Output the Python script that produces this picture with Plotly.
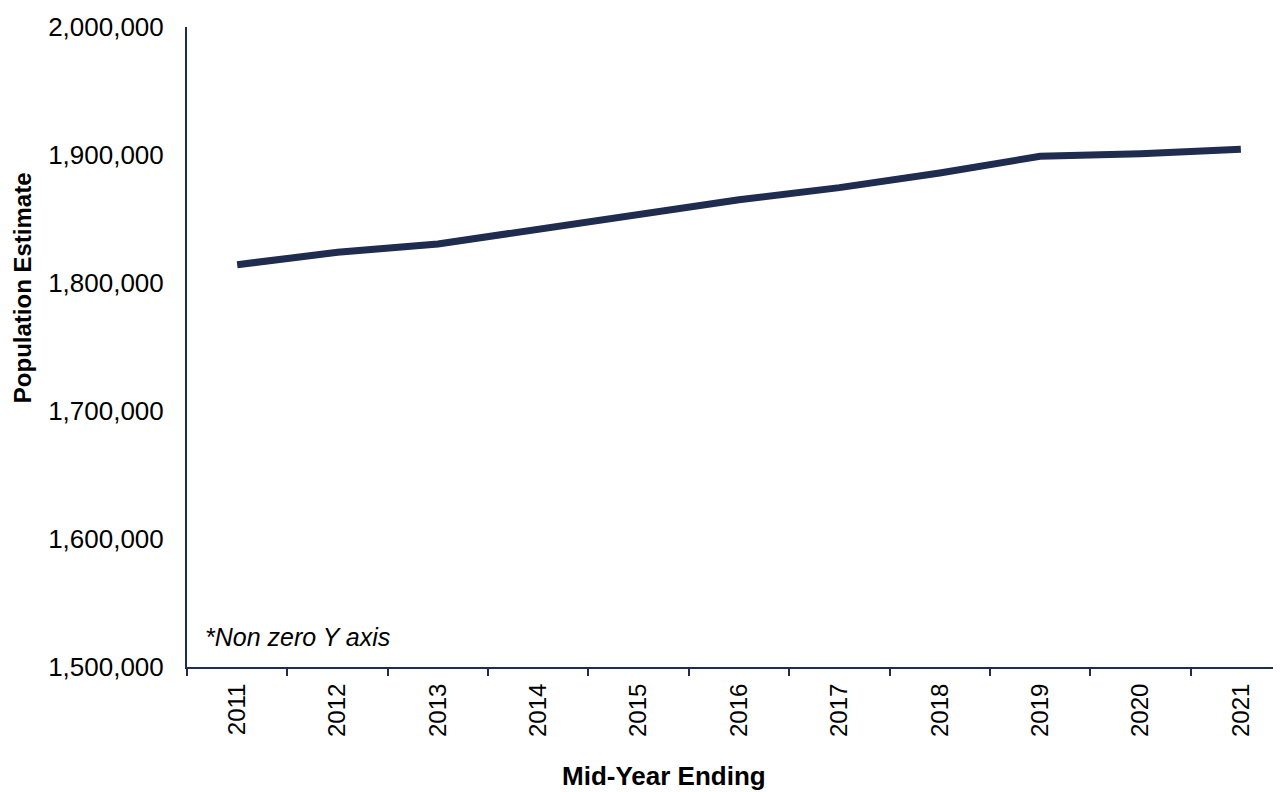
import plotly.graph_objects as go

years = ["2011", "2012", "2013", "2014", "2015", "2016", "2017", "2018", "2019", "2020", "2021"]
population = [1814300, 1824000, 1830500, 1842000, 1853500, 1865000, 1874500, 1886000, 1899000, 1901000, 1904500]
y_ticks = [1500000, 1600000, 1700000, 1800000, 1900000, 2000000]
y_tick_labels = ["1,500,000", "1,600,000", "1,700,000", "1,800,000", "1,900,000", "2,000,000"]

navy = "#1f2b4f"
axis_col = "#1f2b4f"
FONT = "Liberation Sans, Arial, sans-serif"

fig = go.Figure()
fig.add_trace(go.Scatter(
    x=years, y=population, mode="lines",
    line=dict(color=navy, width=7),
    hoverinfo="x+y", showlegend=False,
))

fig.update_layout(
    width=1273, height=784,
    margin=dict(l=179, r=0, t=19, b=125),
    paper_bgcolor="white", plot_bgcolor="white",
    font=dict(family=FONT, color="black"),
    xaxis=dict(
        type="category", range=[-0.5, 10.4],
        showline=True, linecolor=axis_col, linewidth=2,
        ticks="outside", ticklen=7, tickcolor=axis_col, tickwidth=2,
        tickson="boundaries", showgrid=False, zeroline=False,
        tickangle=-90, tickfont=dict(size=24, color="black"),
        ticklabelstandoff=5,
    ),
    yaxis=dict(
        range=[1500000, 2000000], tickvals=y_ticks, ticktext=y_tick_labels,
        showline=True, linecolor=axis_col, linewidth=2,
        ticks="", showgrid=False, zeroline=False,
        tickfont=dict(size=26, color="black"),
        ticklabelstandoff=16,
    ),
    annotations=[
        dict(text="Population Estimate", xref="paper", yref="paper",
             x=-0.1508, y=0.592, xanchor="center", yanchor="middle",
             textangle=-90, showarrow=False,
             font=dict(size=24, color="black", family=FONT, weight="bold")),
        dict(text="Mid-Year Ending", xref="paper", yref="paper",
             x=0.436, y=-0.170, xanchor="center", yanchor="middle",
             showarrow=False,
             font=dict(size=26, color="black", family=FONT, weight="bold")),
        dict(text="<i>*Non zero Y axis</i>", xref="paper", yref="paper",
             x=0.0146, y=0.047, xanchor="left", yanchor="middle",
             showarrow=False,
             font=dict(size=25, color="black", family=FONT)),
    ],
)

fig.write_html("out.html")
